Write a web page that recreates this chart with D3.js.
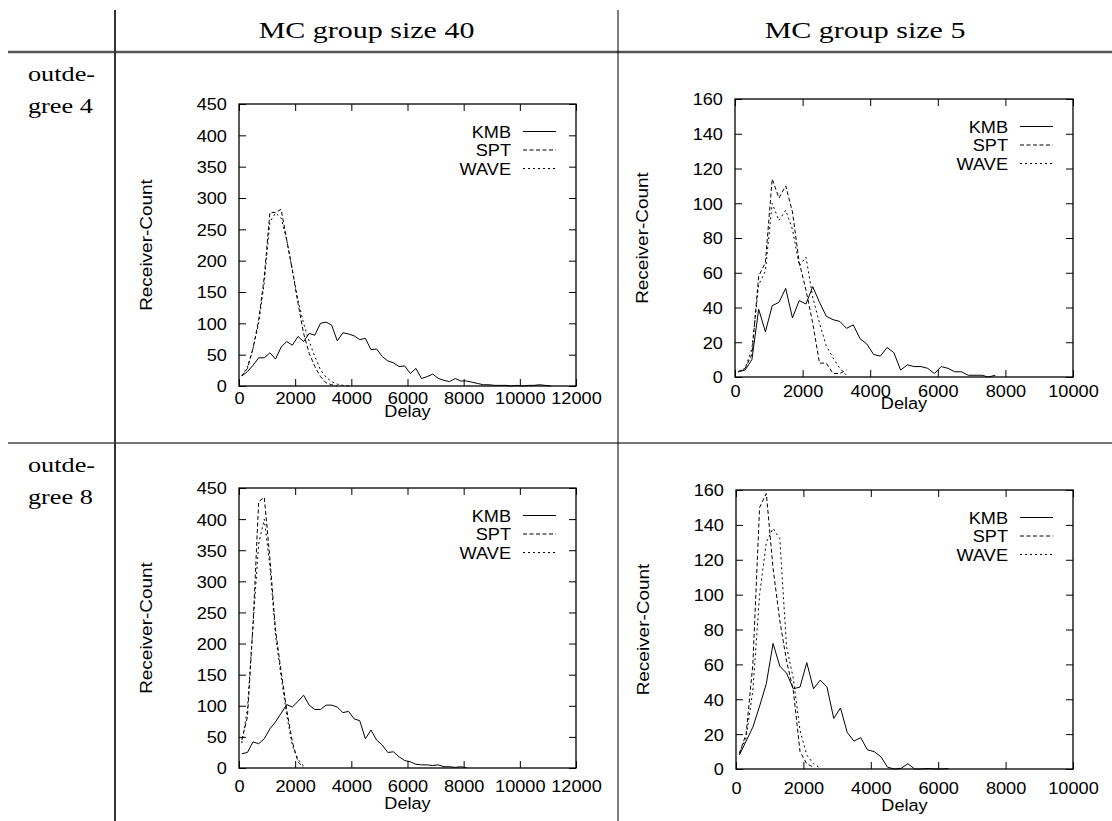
<!DOCTYPE html>
<html><head><meta charset="utf-8">
<script src="https://cdn.jsdelivr.net/npm/d3@7"></script>
<style>body{margin:0;background:#fff}svg{display:block}</style>
</head><body><svg id="c" width="1112" height="821"></svg>
<script>
// ---------- data ----------
const delays = [100,300,500,700,900,1100,1300,1500,1700,1900,2100,2300,2500,2700,2900,3100,3300,3500,3700,3900,
  4100,4300,4500,4700,4900,5100,5300,5500,5700,5900,6100,6300,6500,6700,6900,7100,7300,7500,7700,7900,
  8100,8300,8500,8700,8900,9100,9300,9500,9700,9900,10100,10300,10500,10700,10900,11100];
const seriesNames = ["KMB","SPT","WAVE"];
const colHeaders = ["MC group size 40","MC group size 5"];
const rowHeaders = [["outde-","gree 4"],["outde-","gree 8"]];
const xTicks12k = [0,2000,4000,6000,8000,10000,12000];
const xTicks10k = [0,2000,4000,6000,8000,10000];
const yTicks450 = [0,50,100,150,200,250,300,350,400,450];
const yTicks160 = [0,20,40,60,80,100,120,140,160];

// outdegree 4, group size 40
const kmb_o4_g40 = [16,23,33,45,45,53,43,62,71,65,79,71,84,81,100,102,97,72,85,83,80,74,76,58,59,47,40,37,31,32,20,28,12,15,19,12,9,7,12,8,8,6,4,2,2,1,1,1,0,1,0,1,1,2,1,0];
const spt_o4_g40 = [16,28,60,105,174,277,277,282,233,185,132,84,52,31,15,5,2,0];
const wave_o4_g40 = [16,30,60,100,165,262,276,268,233,185,137,100,71,47,26,14,7,3,1,0];
// outdegree 4, group size 5
const kmb_o4_g5 = [3,4,10,39,26,41,43,51,34,44,42,52,43,35,33,32,28,30,22,19,13,12,17,14,4,7,6,6,5,2,6,5,3,3,1,1,1,0,1];
const spt_o4_g5 = [3,5,13,58,66,114,103,110,95,66,50,31,8,8,2,2,4];
const wave_o4_g5 = [3,5,16,53,61,100,90,96,85,64,69,46,31,18,11,5,1];
// outdegree 8, group size 40
const kmb_o8_g40 = [23,25,42,39,47,63,74,88,102,98,107,117,101,94,94,101,101,98,89,91,79,76,47,61,45,37,25,26,18,12,10,6,5,5,4,5,2,2,1,2,0.5];
const spt_o8_g40 = [45,82,230,428,435,337,222,155,93,42,10,1];
const wave_o8_g40 = [40,95,230,360,400,324,214,147,85,36,14,3];
// outdegree 8, group size 5
const kmb_o8_g5 = [8,16,24,36,49,72,59,55,46,47,61,46,51,47,29,35,21,16,18,11,10,7,1,0,0.4,3,0,0,0.3,0,0,0.3];
const spt_o8_g5 = [9,20,60,150,158,115,85,62,45,10,3,1];
const wave_o8_g5 = [9,18,45,100,130,138,132,70,52,22,8,3,0.5];

// ---------- layout ----------
const SANS = "'Liberation Sans', Arial, sans-serif";
const SERIF = "'Liberation Serif', 'Times New Roman', serif";
const SX_SANS = 1.1, SX_SERIF = 1.25;
const panels = [
  {x0:239,x1:576,y0:104,y1:386, xTicks:xTicks12k, yTicks:yTicks450, data:[kmb_o4_g40,spt_o4_g40,wave_o4_g40], tickDy:18, labDy:31},
  {x0:735,x1:1073,y0:99,y1:377, xTicks:xTicks10k, yTicks:yTicks160, data:[kmb_o4_g5,spt_o4_g5,wave_o4_g5], tickDy:20, labDy:32},
  {x0:239,x1:576,y0:488,y1:768, xTicks:xTicks12k, yTicks:yTicks450, data:[kmb_o8_g40,spt_o8_g40,wave_o8_g40], tickDy:24, labDy:41},
  {x0:736,x1:1073,y0:490,y1:769, xTicks:xTicks10k, yTicks:yTicks160, data:[kmb_o8_g5,spt_o8_g5,wave_o8_g5], tickDy:25, labDy:42}
];
const dashes = [null, "4,2.5", "2,3"];

const svg = d3.select("#c");
svg.append("rect").attr("width",1112).attr("height",821).attr("fill","#fff");

function txt(g, x, y, s, o) {
  return g.append("text")
    .attr("transform", `translate(${x},${y}) rotate(${o.rot||0}) scale(${o.sx||1},1)`)
    .attr("text-anchor", o.anchor||"start")
    .attr("font-family", o.family||SANS)
    .attr("font-size", o.size||16)
    .attr("fill", "#000")
    .text(s);
}

// ---------- table ----------
const tbl = svg.append("g");
tbl.append("line").attr("x1",8).attr("x2",1112).attr("y1",52).attr("y2",52).attr("stroke","#555").attr("stroke-width",2.5);
tbl.append("line").attr("x1",8).attr("x2",1112).attr("y1",443).attr("y2",443).attr("stroke","#777").attr("stroke-width",2);
tbl.append("line").attr("x1",115).attr("x2",115).attr("y1",10).attr("y2",821).attr("stroke","#333").attr("stroke-width",2);
tbl.append("line").attr("x1",618).attr("x2",618).attr("y1",10).attr("y2",821).attr("stroke","#000").attr("stroke-width",1);
txt(tbl, 366.5, 38, colHeaders[0], {family:SERIF, size:24, anchor:"middle", sx:SX_SERIF});
txt(tbl, 865, 38, colHeaders[1], {family:SERIF, size:24, anchor:"middle", sx:SX_SERIF});
const rowBase = [81, 472];
rowHeaders.forEach((r,i) => {
  txt(tbl, 28, rowBase[i], r[0], {family:SERIF, size:21, sx:SX_SERIF});
  txt(tbl, 28, rowBase[i]+32, r[1], {family:SERIF, size:21, sx:SX_SERIF});
});

// ---------- plots ----------
panels.forEach(p => {
  const g = svg.append("g");
  const xMax = p.xTicks[p.xTicks.length-1], yMax = p.yTicks[p.yTicks.length-1];
  const x = d3.scaleLinear().domain([0,xMax]).range([p.x0,p.x1]);
  const y = d3.scaleLinear().domain([0,yMax]).range([p.y1,p.y0]);

  const fmt = d3.format("d");
  const ab = g.append("g").attr("transform",`translate(0,${p.y1})`)
    .call(d3.axisBottom(x).tickValues(p.xTicks).tickFormat(fmt).tickSize(-7).tickSizeOuter(0).tickPadding(p.tickDy-12));
  const at = g.append("g").attr("transform",`translate(0,${p.y0})`)
    .call(d3.axisTop(x).tickValues(p.xTicks).tickFormat("").tickSize(-7).tickSizeOuter(0));
  const al = g.append("g").attr("transform",`translate(${p.x0},0)`)
    .call(d3.axisLeft(y).tickValues(p.yTicks).tickFormat(fmt).tickSize(-7).tickSizeOuter(0).tickPadding(11));
  const ar = g.append("g").attr("transform",`translate(${p.x1},0)`)
    .call(d3.axisRight(y).tickValues(p.yTicks).tickFormat("").tickSize(-7).tickSizeOuter(0));
  [ab,at,al,ar].forEach(a => {
    a.select(".domain").remove();
    a.selectAll(".tick line").attr("stroke","#000").attr("stroke-width",1);
    a.selectAll("text").attr("font-family",SANS).attr("font-size",16.5).attr("fill","#000");
  });
  ab.selectAll(".tick text").attr("dy","0.71em").attr("transform",`scale(${SX_SANS},1)`);
  al.selectAll(".tick text").attr("dy","0.36em").attr("transform",`scale(${SX_SANS},1)`);

  g.append("rect").attr("x",p.x0).attr("y",p.y0).attr("width",p.x1-p.x0).attr("height",p.y1-p.y0)
    .attr("fill","none").attr("stroke","#000").attr("stroke-width",1.3);

  const line = d3.line().x((d,i)=>x(delays[i])).y(d=>y(d));
  p.data.forEach((arr,k) => {
    g.append("path").datum(arr).attr("d",line).attr("fill","none")
      .attr("stroke","#000").attr("stroke-width",1)
      .attr("stroke-dasharray",dashes[k]);
  });

  seriesNames.forEach((n,k) => {
    const cy = p.y0 + 27.5 + k*18.5;
    txt(g, p.x1-65, cy+6, n, {size:16.5, anchor:"end", sx:SX_SANS});
    g.append("line").attr("x1",p.x1-53).attr("x2",p.x1-20).attr("y1",cy).attr("y2",cy)
      .attr("stroke","#000").attr("stroke-width",1).attr("stroke-dasharray",dashes[k]);
  });

  txt(g, (p.x0+p.x1)/2, p.y1+p.labDy, "Delay", {size:16.5, anchor:"middle", sx:SX_SANS});
  txt(g, p.x0-87.5, (p.y0+p.y1)/2, "Receiver-Count", {size:16.5, anchor:"middle", rot:-90, sx:1.15});
});
</script></body></html>
